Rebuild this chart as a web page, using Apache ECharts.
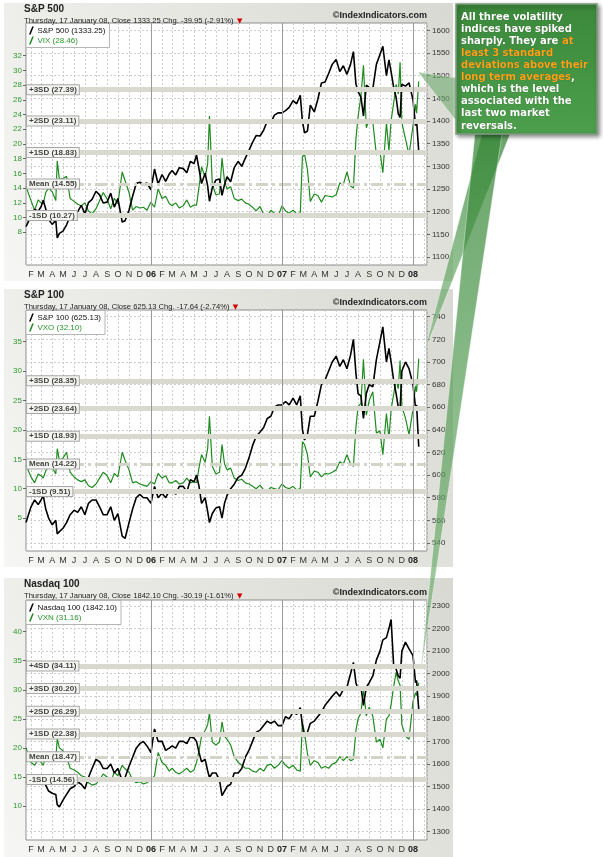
<!DOCTYPE html>
<html>
<head>
<meta charset="utf-8">
<title>Volatility indices</title>
<script src="https://cdn.jsdelivr.net/npm/echarts@6.0.0/dist/echarts.min.js"></script>
<style>
html, body { margin: 0; padding: 0; background: #fff; }
#main { width: 603px; height: 857px; }
</style>
</head>
<body>
<div id="main"></div>
<script>
// sample dates (roughly every 10 days, plus the spike days)
var dates = [
    '2005-01-18',
    '2005-02-01', '2005-02-11', '2005-02-21',
    '2005-03-01', '2005-03-07', '2005-03-14', '2005-03-22',
    '2005-04-01', '2005-04-11', '2005-04-15', '2005-04-21',
    '2005-05-01', '2005-05-11', '2005-05-21',
    '2005-06-01', '2005-06-11', '2005-06-21',
    '2005-07-01', '2005-07-11', '2005-07-21',
    '2005-08-01', '2005-08-11', '2005-08-21',
    '2005-09-01', '2005-09-11', '2005-09-21',
    '2005-10-01', '2005-10-13', '2005-10-21',
    '2005-11-01', '2005-11-11', '2005-11-21',
    '2005-12-01', '2005-12-11', '2005-12-21',
    '2006-01-01', '2006-01-11', '2006-01-21',
    '2006-02-01', '2006-02-11', '2006-02-21',
    '2006-03-01', '2006-03-11', '2006-03-21',
    '2006-04-01', '2006-04-11', '2006-04-21',
    '2006-05-01', '2006-05-08', '2006-05-15', '2006-05-22',
    '2006-06-01', '2006-06-08', '2006-06-13', '2006-06-21',
    '2006-07-01', '2006-07-11', '2006-07-18', '2006-07-25',
    '2006-08-01', '2006-08-11', '2006-08-21',
    '2006-09-01', '2006-09-11', '2006-09-21',
    '2006-10-01', '2006-10-11', '2006-10-21',
    '2006-11-01', '2006-11-11', '2006-11-21',
    '2006-12-01', '2006-12-11', '2006-12-21',
    '2007-01-01', '2007-01-11', '2007-01-21',
    '2007-02-01', '2007-02-11', '2007-02-21', '2007-02-27',
    '2007-03-05', '2007-03-13', '2007-03-21',
    '2007-04-01', '2007-04-11', '2007-04-21',
    '2007-05-01', '2007-05-11', '2007-05-21',
    '2007-06-01', '2007-06-11', '2007-06-21',
    '2007-07-01', '2007-07-11', '2007-07-19', '2007-07-26',
    '2007-08-01', '2007-08-09', '2007-08-16', '2007-08-24',
    '2007-09-01', '2007-09-11', '2007-09-21',
    '2007-10-01', '2007-10-09', '2007-10-19', '2007-10-26',
    '2007-11-01', '2007-11-08', '2007-11-15', '2007-11-21', '2007-11-26',
    '2007-12-01', '2007-12-11', '2007-12-21',
    '2008-01-01', '2008-01-08', '2008-01-11', '2008-01-17'
];

var spx = [
    1167,
    1190, 1205, 1201,
    1211, 1225, 1206, 1183,
    1172, 1181, 1142, 1152,
    1157, 1171, 1190,
    1202, 1200, 1214,
    1195, 1220, 1227,
    1245, 1237, 1219,
    1221, 1241, 1210,
    1229, 1177, 1180,
    1203, 1234, 1262,
    1265, 1260, 1263,
    1248, 1294, 1261,
    1282, 1267, 1283,
    1291, 1281, 1297,
    1295, 1286, 1311,
    1306, 1325, 1294, 1262,
    1285, 1257, 1223, 1253,
    1270, 1272, 1236, 1260,
    1277, 1266, 1297,
    1311, 1300, 1318,
    1335, 1353, 1368,
    1367, 1380, 1400,
    1397, 1413, 1418,
    1418, 1423, 1430,
    1445, 1438, 1457, 1399,
    1374, 1378, 1435,
    1420, 1448, 1484,
    1486, 1505, 1525,
    1536, 1509, 1522,
    1503, 1525, 1553, 1482,
    1465, 1453, 1411, 1479,
    1474, 1471, 1525,
    1547, 1565, 1500, 1535,
    1509, 1475, 1452, 1416, 1408,
    1481, 1477, 1484,
    1447, 1390, 1401, 1333
];

var vix = [
    14.2,
    12.3, 11.0, 12.4,
    12.0, 11.9, 13.4, 14.0,
    13.5, 12.3, 17.7, 15.2,
    15.3, 15.6, 12.6,
    12.2, 11.8, 11.6,
    12.0, 10.9, 10.5,
    11.2, 12.3, 13.4,
    12.5, 11.2, 12.6,
    11.9, 16.2, 15.0,
    13.4, 11.0, 11.5,
    11.3, 11.4, 11.0,
    12.1, 11.4, 13.9,
    12.6, 12.9, 11.9,
    11.6, 12.0, 11.3,
    11.6, 12.4, 11.4,
    11.7, 11.7, 14.2, 16.9,
    15.5, 17.3, 23.8, 14.5,
    13.1, 13.2, 18.1, 14.9,
    13.9, 14.2, 12.6,
    12.3, 12.5, 12.0,
    11.8, 11.4, 10.9,
    11.5, 10.4, 10.2,
    11.0, 10.6, 10.1,
    11.6, 10.9, 10.6,
    11.0, 10.5, 10.6, 18.3,
    18.6, 16.5, 12.2,
    13.2, 13.0, 12.1,
    13.0, 12.9, 12.8,
    13.1, 14.7, 14.5,
    16.2, 14.3, 14.0, 20.7,
    23.7, 26.5, 30.7, 22.2,
    23.4, 23.0, 18.5,
    19.0, 16.1, 22.9, 19.0,
    23.2, 25.5, 28.1, 26.8, 31.1,
    22.9, 20.7, 18.5,
    22.5, 25.4, 24.2, 28.5
];

var oex = [
    558,
    572, 578, 574,
    578, 582, 570, 562,
    556, 560, 548, 550,
    553, 558, 565,
    569, 567, 572,
    565, 575, 578,
    578, 572, 565,
    565, 572, 560,
    566, 546, 544,
    558, 570, 580,
    583, 580, 580,
    575, 590, 580,
    584, 580, 586,
    587, 583, 590,
    590, 585, 596,
    594, 600, 590, 575,
    580, 568, 558, 566,
    571, 572, 562, 575,
    582, 588, 592,
    598, 600, 606,
    615, 626, 634,
    638, 642, 650,
    652, 660, 662,
    662, 665, 662,
    668, 662, 670, 640,
    631, 636, 652,
    652, 665, 680,
    684, 692, 700,
    705, 696, 702,
    694, 706, 720, 690,
    672, 670, 650, 672,
    680, 678, 702,
    718, 731, 700, 712,
    700, 684, 672, 660, 658,
    692, 700, 694,
    680, 660, 662, 625
];

var vxo = [
    14.0,
    12.0, 11.0, 12.5,
    12.2, 11.8, 13.0, 13.8,
    13.6, 12.5, 16.8, 14.8,
    15.2, 16.2, 12.8,
    12.0, 11.5, 11.2,
    11.5, 10.5, 10.2,
    10.8, 11.8, 12.8,
    12.2, 11.0, 12.6,
    12.0, 16.2, 14.8,
    13.2, 11.0, 11.2,
    10.8, 10.6, 10.4,
    11.2, 10.8, 12.6,
    11.8, 12.2, 11.0,
    11.0, 11.4, 10.8,
    11.0, 11.8, 11.0,
    11.2, 11.0, 13.6, 15.8,
    14.5, 16.8, 22.3, 13.8,
    12.5, 12.8, 17.5, 14.2,
    13.2, 13.5, 11.8,
    11.4, 11.6, 11.0,
    10.8, 10.4, 10.0,
    10.6, 9.8, 9.6,
    10.2, 10.0, 9.8,
    10.8, 10.2, 10.0,
    10.4, 9.8, 10.0, 18.0,
    17.5, 15.8, 12.0,
    13.0, 12.8, 12.0,
    12.6, 12.5, 12.8,
    13.2, 14.6, 14.2,
    15.8, 14.2, 13.8, 20.5,
    24.0, 24.5, 32.0, 22.5,
    25.0, 26.5, 19.5,
    19.8, 15.8, 22.8, 18.5,
    23.5, 26.0, 28.5, 27.0, 31.8,
    24.0, 22.0, 19.2,
    23.5, 27.5, 26.5, 32.1
];

var ndx = [
    1515,
    1530, 1540, 1520,
    1525, 1540, 1505, 1480,
    1470, 1465, 1420, 1410,
    1440, 1465, 1490,
    1500, 1520, 1510,
    1490, 1540, 1580,
    1620, 1610, 1580,
    1580, 1600, 1560,
    1580, 1525, 1540,
    1590, 1630, 1670,
    1690, 1700, 1680,
    1650, 1755, 1700,
    1700, 1660, 1670,
    1680, 1670, 1700,
    1700, 1690, 1720,
    1715, 1700, 1650, 1610,
    1620, 1570, 1540, 1560,
    1560, 1530, 1460, 1480,
    1500, 1510, 1560,
    1560, 1580, 1630,
    1660, 1700, 1740,
    1750, 1770, 1790,
    1780, 1790, 1770,
    1770, 1810, 1800,
    1830, 1820, 1850, 1770,
    1720, 1740, 1780,
    1790, 1810, 1830,
    1860, 1880, 1900,
    1920, 1900, 1930,
    1940, 2000, 2050, 1960,
    1930, 1940, 1860, 1940,
    1960, 1990, 2060,
    2100, 2150, 2160, 2200,
    2240, 2040, 2020, 1990, 1980,
    2100, 2140, 2110,
    2080, 1960, 1970, 1842
];

var vxn = [
    20.0,
    17.5, 17.0, 18.0,
    17.5, 17.0, 18.5, 19.0,
    18.5, 18.0, 21.6, 20.0,
    19.5, 18.5, 16.5,
    16.2, 15.8, 15.2,
    15.0, 14.0, 13.6,
    13.8, 14.5, 15.5,
    15.0, 14.2, 15.8,
    15.2, 17.0, 16.4,
    15.8, 14.5, 14.0,
    14.2, 13.8, 14.0,
    14.5, 15.2, 19.2,
    17.5, 17.0, 16.0,
    16.5, 15.8, 15.5,
    16.0, 16.5, 15.8,
    16.2, 17.5, 19.5, 22.0,
    23.0, 24.0, 26.0, 21.0,
    20.5, 21.0, 24.5, 22.0,
    21.5, 20.5, 18.5,
    17.5, 17.0, 16.5,
    16.5, 16.0, 15.8,
    16.5, 16.0, 17.0,
    17.2, 16.5, 17.0,
    17.8, 17.0, 16.5,
    17.0, 16.2, 16.0, 24.5,
    22.5, 19.0, 17.0,
    17.8, 17.5, 16.5,
    16.8, 16.5, 17.2,
    17.5, 18.5, 17.8,
    18.5, 17.8, 18.0, 23.0,
    25.0, 26.0, 30.0, 25.5,
    27.0, 25.5, 21.0,
    21.5, 20.0, 25.0, 25.5,
    27.5, 30.5, 33.0, 31.5, 30.8,
    24.0, 22.0, 21.5,
    28.0, 29.5, 29.0, 31.2
];

// standard deviation bands of each volatility index
var vixBandNames = ['+3SD', '+2SD', '+1SD', 'Mean', '-1SD'];
var vixBands = [27.39, 23.11, 18.83, 14.55, 10.27];
var vxoBandNames = ['+3SD', '+2SD', '+1SD', 'Mean', '-1SD'];
var vxoBands = [28.35, 23.64, 18.93, 14.22, 9.51];
var vxnBandNames = ['+4SD', '+3SD', '+2SD', '+1SD', 'Mean', '-1SD'];
var vxnBands = [34.11, 30.20, 26.29, 22.38, 18.47, 14.56];

// tick labels
var vixTicks = [8, 10, 12, 14, 16, 18, 20, 22, 24, 26, 28, 30, 32];
var spxTicks = [1100, 1150, 1200, 1250, 1300, 1350, 1400, 1450, 1500, 1550, 1600];
var vxoTicks = [5, 10, 15, 20, 25, 30, 35];
var oexTicks = [540, 560, 580, 600, 620, 640, 660, 680, 700, 720, 740];
var vxnTicks = [10, 15, 20, 25, 30, 35, 40];
var ndxTicks = [1300, 1400, 1500, 1600, 1700, 1800, 1900, 2000, 2100, 2200, 2300];

var monthLetters = ['J', 'F', 'M', 'A', 'M', 'J', 'J', 'A', 'S', 'O', 'N', 'D'];
var yearLines = ['2006-01-01', '2007-01-01', '2008-01-01'];
var lastLabel = new Date(2008, 0, 1).getTime();

var FONT = "'Liberation Sans', Arial, sans-serif";
var GREEN = '#1f8c1f';

var panels = [
    {
        title: 'S&P 500', sub: 'Thursday, 17 January 08, Close 1333.25 Chg. -39.95 (-2.91%)',
        indexName: 'S&P 500 (1333.25)', volName: 'VIX (28.46)',
        index: spx, vol: vix, bandNames: vixBandNames, bands: vixBands,
        leftTicks: vixTicks, rightTicks: spxTicks,
        top: 23, bottom: 265, leftMin: 3.55, leftMax: 36.45, rightMin: 1082.3, rightMax: 1616.3,
        boxTop: 3, boxBottom: 281
    },
    {
        title: 'S&P 100', sub: 'Thursday, 17 January 08, Close 625.13 Chg. -17.64 (-2.74%)',
        indexName: 'S&P 100 (625.13)', volName: 'VXO (32.10)',
        index: oex, vol: vxo, bandNames: vxoBandNames, bands: vxoBands,
        leftTicks: vxoTicks, rightTicks: oexTicks,
        top: 310, bottom: 551, leftMin: -0.6, leftMax: 40.4, rightMin: 532.9, rightMax: 745.9,
        boxTop: 289, boxBottom: 567
    },
    {
        title: 'Nasdaq 100', sub: 'Thursday, 17 January 08, Close 1842.10 Chg. -30.19 (-1.61%)',
        indexName: 'Nasdaq 100 (1842.10)', volName: 'VXN (31.16)',
        index: ndx, vol: vxn, bandNames: vxnBandNames, bands: vxnBands,
        leftTicks: vxnTicks, rightTicks: ndxTicks,
        top: 600, bottom: 840, leftMin: 4.15, leftMax: 45.45, rightMin: 1263, rightMax: 2326.6,
        boxTop: 578, boxBottom: 857
    }
];

function pairs(values) {
    return dates.map(function (d, i) { return [d, values[i]]; });
}

function monthLabel(value) {
    var d = new Date(value);
    if (d.getDate() !== 1 || value > lastLabel) return '';
    if (d.getMonth() === 0) return '{y|' + String(d.getFullYear()).slice(2) + '}';
    return monthLetters[d.getMonth()];
}

function plainNumber(v) {
    return String(v);
}

var myChart = echarts.init(document.getElementById('main'));

var option = {
    animation: false,
    backgroundColor: '#fff',
    title: [], legend: [], grid: [], xAxis: [], yAxis: [], series: [], graphic: []
};

panels.forEach(function (p, k) {
    // gray panel behind each chart
    option.graphic.push({
        type: 'rect', z: -10, silent: true,
        shape: { x: 4, y: p.boxTop, width: 449, height: p.boxBottom - p.boxTop },
        style: {
            fill: { type: 'linear', x: 1, y: 0, x2: 0, y2: 1,
                colorStops: [{ offset: 0, color: '#d9d9d3' }, { offset: 1, color: '#f6f6f4' }] }
        }
    });

    option.title.push({
        text: p.title, subtext: '{t|' + p.sub + '} {r|▼}',
        left: 24, top: p.boxTop + 1, padding: 0, itemGap: 1,
        textStyle: { fontSize: 10, fontWeight: 'bold', color: '#222', fontFamily: FONT },
        subtextStyle: {
            rich: {
                t: { fontSize: 7.6, color: '#222', fontFamily: FONT },
                r: { fontSize: 7, color: '#d40000', fontFamily: 'DejaVu Sans' }
            }
        }
    });
    option.title.push({
        text: '©IndexIndicators.com', right: 176, top: p.top - 12, padding: 0,
        textStyle: { fontSize: 9, fontWeight: 'bold', color: '#222', fontFamily: FONT }
    });

    option.legend.push({
        orient: 'vertical', left: 26, top: p.top + 0.5,
        padding: [2, 4, 2, 3], itemGap: 0, itemWidth: 6, itemHeight: 8,
        backgroundColor: '#fff', borderColor: '#b5b5b5', borderWidth: 1,
        icon: 'path://M4,0 L6,0 L2,10 L0,10 Z',
        textStyle: { fontSize: 8, fontFamily: FONT, lineHeight: 10, padding: [0, 0, 0, -2] },
        data: [
            { name: p.indexName, textStyle: { color: '#111' } },
            { name: p.volName, textStyle: { color: '#2a962a' } }
        ]
    });

    option.grid.push({
        left: 26, width: 401, top: p.top, height: p.bottom - p.top,
        show: true, backgroundColor: '#fff', borderColor: '#8c8c8c', borderWidth: 1
    });

    option.xAxis.push({
        type: 'time', gridIndex: k, min: '2005-01-18', max: '2008-02-09',
        minInterval: 28 * 86400000, maxInterval: 31 * 86400000, splitNumber: 40,
        axisLine: { show: false }, axisTick: { show: false },
        axisLabel: {
            fontSize: 9, color: '#333', fontFamily: FONT, margin: 5,
            showMinLabel: false, showMaxLabel: false, hideOverlap: false,
            formatter: monthLabel,
            rich: { y: { fontSize: 9, fontWeight: 'bold', color: '#222', fontFamily: FONT } }
        },
        splitLine: { show: true, lineStyle: { color: '#cdcdcd', type: [2, 2], width: 1 } }
    });

    option.yAxis.push({
        type: 'value', gridIndex: k, position: 'left', min: p.leftMin, max: p.leftMax,
        axisLine: { show: false },
        axisTick: { show: true, length: 3, customValues: p.leftTicks, lineStyle: { color: '#666' } },
        axisLabel: { customValues: p.leftTicks, fontSize: 8, color: '#2f9a2f', fontFamily: FONT, margin: 4,
            formatter: plainNumber },
        splitLine: { show: false }
    });
    option.yAxis.push({
        type: 'value', gridIndex: k, position: 'right', min: p.rightMin, max: p.rightMax,
        axisLine: { show: false },
        axisTick: { show: true, length: 3, customValues: p.rightTicks, lineStyle: { color: '#666' } },
        axisLabel: { customValues: p.rightTicks, fontSize: 8, color: '#333', fontFamily: FONT, margin: 5,
            formatter: plainNumber },
        splitLine: { show: true, lineStyle: { color: '#cdcdcd', type: [2, 2], width: 1 } }
    });

    var bandData = p.bandNames.map(function (n, i) {
        var isMean = n === 'Mean';
        return {
            name: n + ' (' + p.bands[i].toFixed(2) + ')',
            yAxis: p.bands[i],
            lineStyle: isMean
                ? { color: '#d3d3c7', width: 3, type: [12, 4, 3, 4] }
                : { color: '#d9d9cf', width: 5, type: 'solid' }
        };
    });
    var yearData = yearLines.map(function (d) {
        return { xAxis: d, label: { show: false }, lineStyle: { color: '#9a9a9a', width: 1, type: 'solid' } };
    });

    // invisible carrier for the bands and year lines, kept under the data lines
    option.series.push({
        name: 'bands' + k, type: 'line', xAxisIndex: k, yAxisIndex: 2 * k,
        data: pairs(p.vol), showSymbol: false, silent: true,
        lineStyle: { opacity: 0 }, z: 1,
        markLine: {
            silent: true, symbol: ['none', 'none'], animation: false,
            label: {
                show: true, position: 'insideStart', distance: 1, formatter: '{b}',
                fontSize: 8, fontWeight: 'bold', fontFamily: FONT, color: '#444',
                backgroundColor: '#f4f4f0', borderColor: '#a8a8a8', borderWidth: 1,
                padding: [1, 2, 0, 2]
            },
            data: bandData.concat(yearData)
        }
    });
    option.series.push({
        name: p.volName, type: 'line', xAxisIndex: k, yAxisIndex: 2 * k,
        data: pairs(p.vol), showSymbol: false, z: 3,
        lineStyle: { color: GREEN, width: 1.2 }, itemStyle: { color: GREEN }
    });
    option.series.push({
        name: p.indexName, type: 'line', xAxisIndex: k, yAxisIndex: 2 * k + 1,
        data: pairs(p.index), showSymbol: false, z: 4,
        lineStyle: { color: '#000', width: 1.6 }, itemStyle: { color: '#000' }
    });
});

// callout pointers
option.graphic.push(
    {
        type: 'polygon', z: 100, silent: true,
        shape: { points: [[418, 72], [457, 78], [468, 136]] },
        style: { fill: 'rgba(110,170,110,0.6)', stroke: 'rgba(255,255,255,0.35)', lineWidth: 1 }
    },
    {
        type: 'polygon', z: 100, silent: true,
        shape: { points: [[482, 134], [510, 134], [424, 353]] },
        style: {
            fill: { type: 'linear', x: 0, y: 0, x2: 0, y2: 1,
                colorStops: [{ offset: 0, color: 'rgba(55,135,55,0.75)' }, { offset: 1, color: 'rgba(110,175,110,0.6)' }] },
            stroke: 'rgba(255,255,255,0.35)', lineWidth: 1
        }
    },
    {
        type: 'polygon', z: 100, silent: true,
        shape: { points: [[475, 134], [502, 134], [420, 678]] },
        style: {
            fill: { type: 'linear', x: 0, y: 0, x2: 0, y2: 1,
                colorStops: [{ offset: 0, color: 'rgba(55,135,55,0.75)' }, { offset: 1, color: 'rgba(110,175,110,0.6)' }] },
            stroke: 'rgba(255,255,255,0.35)', lineWidth: 1
        }
    },
    {
        type: 'rect', z: 110, silent: true,
        shape: { x: 456, y: 4, width: 141, height: 130 },
        style: {
            fill: { type: 'linear', x: 0, y: 0, x2: 0, y2: 1,
                colorStops: [{ offset: 0, color: '#3b883b' }, { offset: 1, color: '#4c9f4c' }] },
            stroke: '#7f9c7f', lineWidth: 1.5,
            shadowBlur: 4, shadowColor: 'rgba(0,0,0,0.45)', shadowOffsetX: 2, shadowOffsetY: 2
        }
    },
    {
        type: 'text', z: 120, silent: true, x: 461, y: 11,
        style: {
            text: [
                '{w|All three volatility}',
                '{w|indices have spiked}',
                '{w|sharply. They are }{o|at}',
                '{o|least 3 standard}',
                '{o|deviations above their}',
                '{o|long term averages}{w|,}',
                '{w|which is the level}',
                '{w|associated with the}',
                '{w|last two market}',
                '{w|reversals.}'
            ].join('\n'),
            rich: {
                w: { fill: '#fff', fontSize: 10, fontWeight: 'bold', fontFamily: 'DejaVu Sans', lineHeight: 12.1,
                    textShadowColor: 'rgba(0,0,0,0.35)', textShadowBlur: 1 },
                o: { fill: '#ffa21a', fontSize: 10, fontWeight: 'bold', fontFamily: 'DejaVu Sans', lineHeight: 12.1,
                    textShadowColor: 'rgba(0,0,0,0.35)', textShadowBlur: 1 }
            }
        }
    }
);

myChart.setOption(option);
</script>
</body>
</html>
